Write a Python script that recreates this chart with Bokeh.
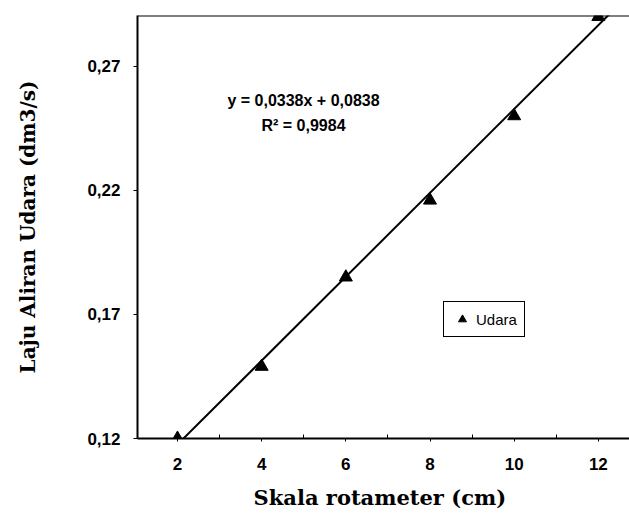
from bokeh.plotting import figure
from bokeh.models import Range1d, FixedTicker, Legend, LegendItem, Label, Span
from bokeh.embed import file_html
from bokeh.resources import INLINE

# ---- data ----
skala = [2, 4, 6, 8, 10, 12]                       # Skala rotameter (cm)
laju = [0.120, 0.149, 0.185, 0.216, 0.250, 0.290]  # Laju aliran udara
x_ticks = [2, 4, 6, 8, 10, 12]
x_minor = [3, 5, 7, 9, 11]
y_ticks = [0.12, 0.17, 0.22, 0.27]
y_tick_labels = ["0,12", "0,17", "0,22", "0,27"]
trend_slope = 0.0338       # per data-point index (x/2)
trend_intercept = 0.0838
equation_text = "y = 0,0338x + 0,0838"
r2_text = "R\u00b2 = 0,9984"
series_name = "Udara"
x_title = "Skala  rotameter (cm)"
y_title = "Laju Aliran Udara (dm3/s)"

x_start, x_end = 1.05, 12.74
y_start, y_end = 0.12, 0.2905

p = figure(width=629, height=513, output_backend="svg", toolbar_location=None,
           x_range=Range1d(x_start, x_end), y_range=Range1d(y_start, y_end),
           min_border_left=137, min_border_right=0, min_border_top=15,
           min_border_bottom=75, background_fill_color="white",
           border_fill_color="white")
p.outline_line_color = None
p.grid.visible = False

# trendline from the equation (x index = skala/2)
tx = [x_start, x_end]
ty = [trend_slope * (v / 2.0) + trend_intercept for v in tx]
p.line(tx, ty, line_color="black", line_width=2)

pts = p.scatter(skala, laju, marker="triangle", size=13, fill_color="black",
                line_color="black")

# top border line
p.add_layout(Span(location=y_end, dimension="width", line_color="black",
                  line_width=2))

# axes
xa = p.xaxis[0]
xa.ticker = FixedTicker(ticks=x_ticks, minor_ticks=x_minor)
xa.axis_line_width = 2
xa.axis_line_color = "black"
xa.major_tick_line_color = "black"
xa.minor_tick_line_color = "black"
xa.major_tick_out = 3
xa.major_tick_in = 0
xa.minor_tick_in = 4
xa.minor_tick_out = 0
xa.major_label_standoff = 16
xa.major_label_text_font = "Liberation Sans"
xa.major_label_text_font_style = "bold"
xa.major_label_text_font_size = "17px"
xa.major_label_text_color = "black"
xa.axis_label = x_title
xa.axis_label_text_font = "DejaVu Serif"
xa.axis_label_text_font_style = "bold"
xa.axis_label_text_font_size = "21px"
xa.axis_label_text_color = "black"
xa.axis_label_standoff = 12

ya = p.yaxis[0]
ya.ticker = FixedTicker(ticks=y_ticks, minor_ticks=[])
ya.major_label_overrides = {t: l for t, l in zip(y_ticks, y_tick_labels)}
ya.axis_line_width = 2
ya.axis_line_color = "black"
ya.major_tick_line_color = "black"
ya.major_tick_out = 4
ya.major_tick_in = 0
ya.minor_tick_in = 0
ya.minor_tick_out = 0
ya.major_label_standoff = 13
ya.major_label_text_font = "Liberation Sans"
ya.major_label_text_font_style = "bold"
ya.major_label_text_font_size = "17px"
ya.major_label_text_color = "black"
ya.axis_label = y_title
ya.axis_label_text_font = "DejaVu Serif"
ya.axis_label_text_font_style = "bold"
ya.axis_label_text_font_size = "20px"
ya.axis_label_text_color = "black"
ya.axis_label_standoff = 44

# equation annotation (screen units relative to the plot frame)
for txt, yy in [(equation_text, 338), (r2_text, 313)]:
    p.add_layout(Label(x=166, y=yy, x_units="screen", y_units="screen",
                       text=txt, text_align="center", text_baseline="middle",
                       text_font="Liberation Sans", text_font_style="bold",
                       text_font_size="16px", text_color="black"))

legend = Legend(items=[LegendItem(label=series_name, renderers=[pts])],
                location=(306, 101), border_line_color="black",
                border_line_alpha=1.0, border_line_width=1.5,
                padding=7, margin=0, spacing=0,
                glyph_width=22, glyph_height=20, label_standoff=3,
                label_text_font="Liberation Sans", label_text_font_size="15px",
                label_text_color="black", background_fill_alpha=1.0)
p.add_layout(legend)

open("out.html", "w").write(file_html(p, INLINE))
